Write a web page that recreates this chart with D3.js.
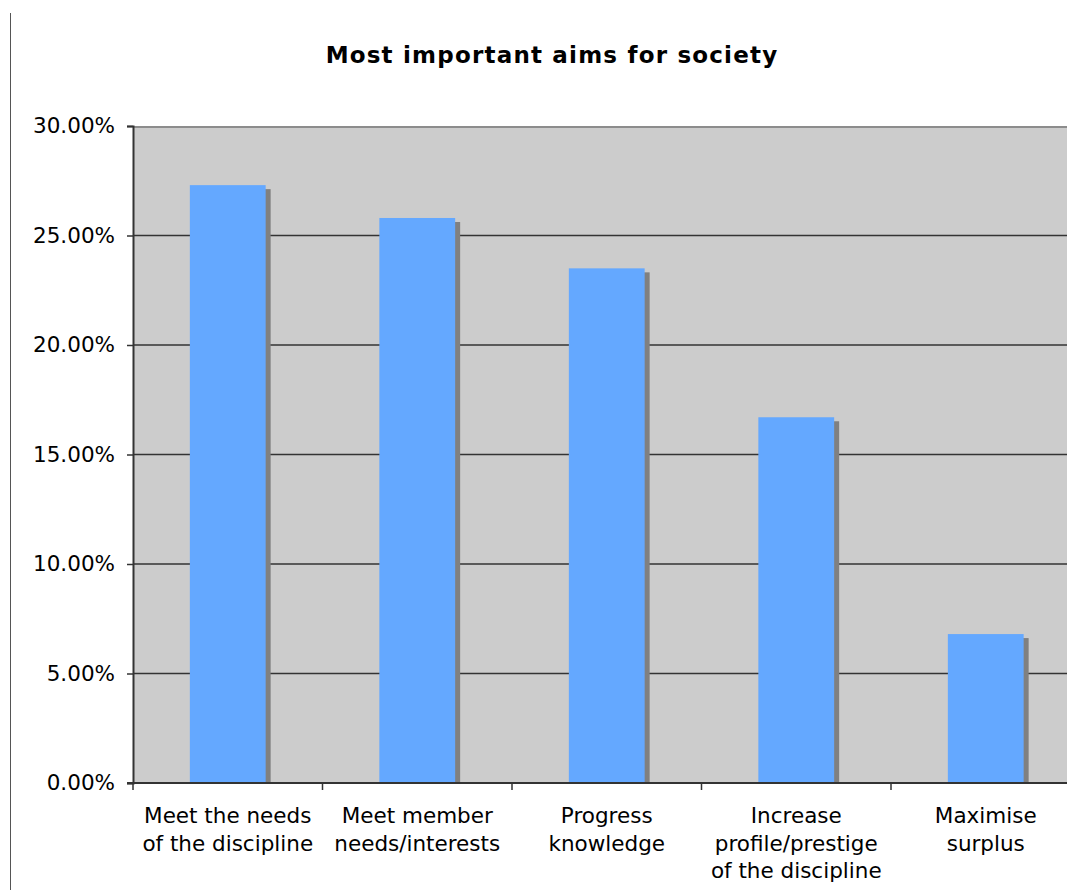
<!DOCTYPE html>
<html>
<head>
<meta charset="utf-8">
<script src="https://cdn.jsdelivr.net/npm/d3@7"></script>
<style>
  html, body { margin: 0; padding: 0; background: #fff; }
  svg { display: block; }
</style>
</head>
<body>
<div id="chart"></div>
<script>
// Survey result: share of respondents naming each aim as most important
const chartTitle = "Most important aims for society";
const categories = [
  "Meet the needs of the discipline",
  "Meet member needs/interests",
  "Progress knowledge",
  "Increase profile/prestige of the discipline",
  "Maximise surplus"
];
const categoryLines = [
  ["Meet the needs", "of the discipline"],
  ["Meet member", "needs/interests"],
  ["Progress", "knowledge"],
  ["Increase", "profile/prestige", "of the discipline"],
  ["Maximise", "surplus"]
];
const values = [27.3, 25.8, 23.5, 16.7, 6.8];
const yTicks = [0, 5, 10, 15, 20, 25, 30];

const W = 1067, H = 890;
const plot = { left: 133, top: 126, right: 1080.5, bottom: 783 };
const font = "'DejaVu Sans', Verdana, sans-serif";
const labelSize = 21.5;

const svg = d3.select("#chart").append("svg")
  .attr("width", W).attr("height", H);

// outer frame edge on the left
svg.append("line")
  .attr("x1", 10.5).attr("x2", 10.5).attr("y1", 13).attr("y2", H)
  .attr("stroke", "#555").attr("stroke-width", 1);

// title
svg.append("text")
  .attr("x", 552).attr("y", 63)
  .attr("text-anchor", "middle")
  .attr("font-family", font).attr("font-weight", "bold").attr("font-size", 23)
  .attr("letter-spacing", 1.2)
  .attr("fill", "#000")
  .text(chartTitle);

const x = d3.scaleBand()
  .domain(categories)
  .range([plot.left, plot.right])
  .paddingInner(0.6)
  .paddingOuter(0.3);

const y = d3.scaleLinear()
  .domain([0, 30])
  .range([plot.bottom, plot.top]);

// plot background
svg.append("rect")
  .attr("x", plot.left).attr("y", plot.top)
  .attr("width", plot.right - plot.left).attr("height", plot.bottom - plot.top)
  .attr("fill", "#cccccc");

// top border of plot area
svg.append("line")
  .attr("x1", plot.left).attr("x2", plot.right)
  .attr("y1", plot.top + 1).attr("y2", plot.top + 1)
  .attr("stroke", "#8c8c8c").attr("stroke-width", 2);

// horizontal gridlines
svg.append("g")
  .selectAll("line")
  .data(yTicks.filter(t => t > 0 && t < 30))
  .join("line")
  .attr("x1", plot.left).attr("x2", plot.right)
  .attr("y1", d => y(d)).attr("y2", d => y(d))
  .attr("stroke", "#333").attr("stroke-width", 1.5);

svg.append("clipPath").attr("id", "plotClip")
  .append("rect")
  .attr("x", plot.left).attr("y", plot.top)
  .attr("width", plot.right - plot.left).attr("height", plot.bottom - plot.top);

const barsG = svg.append("g").attr("clip-path", "url(#plotClip)");

// drop shadows
barsG.selectAll("rect.shadow")
  .data(values)
  .join("rect")
  .attr("class", "shadow")
  .attr("x", (d, i) => x(categories[i]) + 5)
  .attr("y", d => y(d) + 4)
  .attr("width", x.bandwidth())
  .attr("height", d => plot.bottom - y(d))
  .attr("fill", "#808080");

// bars
barsG.selectAll("rect.bar")
  .data(values)
  .join("rect")
  .attr("class", "bar")
  .attr("x", (d, i) => x(categories[i]))
  .attr("y", d => y(d))
  .attr("width", x.bandwidth())
  .attr("height", d => plot.bottom - y(d))
  .attr("fill", "#64a8ff");

// y axis
const yAxis = d3.axisLeft(y)
  .tickValues(yTicks)
  .tickSize(6)
  .tickPadding(12)
  .tickFormat(d => d.toFixed(2) + "%");

const yG = svg.append("g")
  .attr("transform", `translate(${plot.left},0)`)
  .call(yAxis);
yG.select(".domain").attr("stroke", "#333").attr("stroke-width", 2);
yG.selectAll(".tick line").attr("stroke", "#333").attr("stroke-width", 1.5);
yG.selectAll(".tick text")
  .attr("font-family", font).attr("font-size", labelSize).attr("fill", "#000");

// x axis: ticks at category boundaries
const bounds = d3.range(categories.length + 1).map(i => plot.left + i * x.step());
const xG = svg.append("g");
xG.append("line")
  .attr("x1", plot.left - 6).attr("x2", plot.right)
  .attr("y1", plot.bottom).attr("y2", plot.bottom)
  .attr("stroke", "#333").attr("stroke-width", 2);
xG.selectAll("line.tk")
  .data(bounds)
  .join("line")
  .attr("class", "tk")
  .attr("x1", d => d).attr("x2", d => d)
  .attr("y1", plot.bottom).attr("y2", plot.bottom + 7)
  .attr("stroke", "#333").attr("stroke-width", 1.5);

// category labels
const lbl = xG.selectAll("text.cat")
  .data(categories)
  .join("text")
  .attr("class", "cat")
  .attr("text-anchor", "middle")
  .attr("font-family", font).attr("font-size", labelSize).attr("fill", "#000")
  .attr("x", d => x(d) + x.bandwidth() / 2)
  .attr("y", 823);
lbl.selectAll("tspan")
  .data((d, i) => categoryLines[i].map(s => ({ s, cx: x(d) + x.bandwidth() / 2 })))
  .join("tspan")
  .attr("x", d => d.cx)
  .attr("dy", (d, j) => j === 0 ? 0 : 27.5)
  .text(d => d.s);
</script>
</body>
</html>
